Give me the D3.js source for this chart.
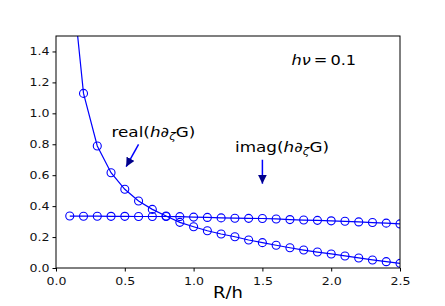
<!DOCTYPE html>
<html>
<head>
<meta charset="utf-8">
<script src="https://cdn.jsdelivr.net/npm/d3@7"></script>
<style>
  body { margin: 0; background: #fff; }
  svg { font-family: "DejaVu Sans", sans-serif; }
</style>
</head>
<body>
<svg></svg>
<script>
const width = 445;
const height = 306;
const margin = { top: 36, right: 45, bottom: 38, left: 56 };
const stretch = 1.2; // text in the picture is drawn a little wide

// R/h sample positions
const rh = [0.1, 0.2, 0.3, 0.4, 0.5, 0.6, 0.7, 0.8, 0.9, 1.0, 1.1, 1.2, 1.3,
  1.4, 1.5, 1.6, 1.7, 1.8, 1.9, 2.0, 2.1, 2.2, 2.3, 2.4, 2.5];
const realVals = [2.0, 1.129, 0.789, 0.616, 0.509, 0.433, 0.379, 0.336, 0.295,
  0.267, 0.241, 0.220, 0.202, 0.181, 0.164, 0.147, 0.131, 0.116, 0.103, 0.091,
  0.078, 0.065, 0.052, 0.041, 0.030];
const imagVals = [0.336, 0.335, 0.335, 0.334, 0.334, 0.333, 0.333, 0.333, 0.332,
  0.329, 0.327, 0.324, 0.322, 0.321, 0.320, 0.317, 0.313, 0.310, 0.308, 0.305,
  0.302, 0.298, 0.294, 0.290, 0.285];
const xTicks = [0, 0.5, 1.0, 1.5, 2.0, 2.5];
const yTicks = [0, 0.2, 0.4, 0.6, 0.8, 1.0, 1.2, 1.4];

const svg = d3.select('svg')
  .attr('width', width)
  .attr('height', height);

const x = d3.scaleLinear().domain([0, 2.5]).range([margin.left, width - margin.right]);
const y = d3.scaleLinear().domain([0, 1.5]).range([height - margin.bottom, margin.top]);

const defs = svg.append('defs');
defs.append('clipPath').attr('id', 'plot')
  .append('rect')
  .attr('x', margin.left).attr('y', margin.top)
  .attr('width', x.range()[1] - margin.left)
  .attr('height', y.range()[0] - margin.top);

const line = d3.line().x(d => x(d[0])).y(d => y(d[1]));

const drawSeries = (vals) => {
  const pts = rh.map((r, i) => [r, vals[i]]);
  const g = svg.append('g').attr('clip-path', 'url(#plot)');
  g.append('path')
    .datum(pts)
    .attr('d', line)
    .attr('fill', 'none')
    .attr('stroke', '#0000ff')
    .attr('stroke-width', 1.2);
  g.selectAll('circle')
    .data(pts)
    .enter()
    .append('circle')
    .attr('cx', d => x(d[0]))
    .attr('cy', d => y(d[1]))
    .attr('r', 4)
    .attr('fill', 'none')
    .attr('stroke', '#0000ff')
    .attr('stroke-width', 1.1);
};

drawSeries(realVals);
drawSeries(imagVals);

// axes
const xAxis = d3.axisBottom(x).tickValues(xTicks).tickFormat(d3.format('.1f')).tickSize(3.5);
const yAxis = d3.axisLeft(y).tickValues(yTicks).tickFormat(d3.format('.1f')).tickSize(3.5);

const gx = svg.append('g')
  .attr('transform', `translate(0,${y(0)})`)
  .call(xAxis);
const gy = svg.append('g')
  .attr('transform', `translate(${margin.left},0)`)
  .call(yAxis);

[gx, gy].forEach(g => {
  g.select('.domain').remove();
  g.selectAll('text').attr('font-size', 10.5).attr('fill', '#111')
    .attr('font-family', '"DejaVu Sans", sans-serif')
    .attr('transform', `scale(${stretch},1)`);
  g.selectAll('line').attr('stroke', '#000');
});
gx.selectAll('text').attr('dy', '1.0em');
gy.selectAll('text').attr('x', -6.5 / stretch);

svg.append('rect')
  .attr('x', margin.left).attr('y', margin.top)
  .attr('width', x.range()[1] - margin.left)
  .attr('height', y.range()[0] - margin.top)
  .attr('fill', 'none')
  .attr('stroke', '#000')
  .attr('stroke-width', 1);

const wideText = (px, py, size, anchor) => svg.append('g')
  .attr('transform', `translate(${px},${py}) scale(${stretch},1)`)
  .append('text')
  .attr('font-size', size)
  .attr('text-anchor', anchor || 'start');

wideText((margin.left + x.range()[1]) / 2, 297.5, 15, 'middle').text('R/h');

// annotations
const label = (px, py, name) => {
  const t = wideText(px, py, 14);
  t.append('tspan').text(name + '(');
  t.append('tspan').attr('font-style', 'italic').text('h');
  t.append('tspan').text('∂');
  t.append('tspan').attr('font-style', 'italic').attr('font-size', 10).attr('dy', 3).text('ζ');
  t.append('tspan').attr('dy', -3).text('G)');
};
label(111.5, 136.5, 'real');
label(235, 151.5, 'imag');

const hv = wideText(291.5, 65, 13.5);
hv.append('tspan').attr('font-style', 'italic').text('hν');
hv.append('tspan').attr('dx', 2.5).text('=');
hv.append('tspan').attr('dx', 2.5).text('0.1');

defs.append('marker')
  .attr('id', 'head')
  .attr('viewBox', '0 0 10 10')
  .attr('refX', 10).attr('refY', 5)
  .attr('markerWidth', 9).attr('markerHeight', 9)
  .attr('markerUnits', 'userSpaceOnUse')
  .attr('orient', 'auto')
  .append('path')
  .attr('d', 'M0,0L10,5L0,10Z')
  .attr('fill', '#00008b');

const arrow = (x1, y1, x2, y2) => {
  svg.append('line')
    .attr('x1', x(x1)).attr('y1', y(y1))
    .attr('x2', x(x2)).attr('y2', y(y2))
    .attr('stroke', '#0000ff')
    .attr('stroke-width', 1.5)
    .attr('marker-end', 'url(#head)');
};
arrow(0.6, 0.80, 0.51, 0.655);
arrow(1.5, 0.70, 1.5, 0.545);
</script>
</body>
</html>
